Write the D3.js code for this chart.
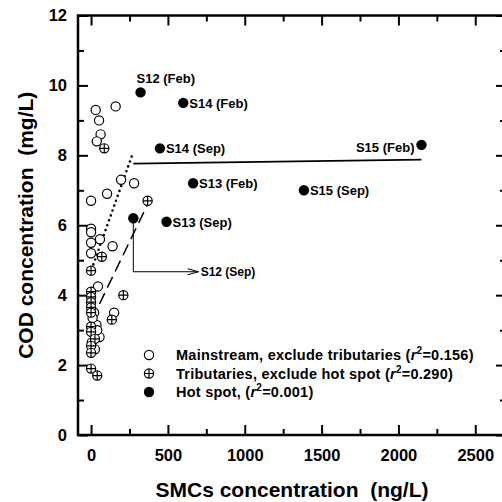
<!DOCTYPE html>
<html>
<head>
<meta charset="utf-8">
<script src="https://cdn.jsdelivr.net/npm/d3@7"></script>
<style>
  body { margin: 0; background: #fff; }
  text { font-family: "Liberation Sans", Arial, sans-serif; font-weight: bold; fill: #000; }
</style>
</head>
<body>
<div id="chart"></div>
<script>
// Mainstream sites (open circles)
var mainSMC = [30, 160, 52, 62, 37, 195, 280, 104, 0, 0, 0, 58, 0, 140, 0, 45, 20, 150, 35, 55, 5, 25, 10, 40]
var mainCOD = [9.3, 9.4, 9.0, 8.6, 8.4, 7.3, 7.2, 6.9, 6.7, 5.9, 5.8, 5.6, 5.5, 5.4, 5.2, 4.25, 3.5, 3.5, 3.15, 2.8, 2.65, 2.45, 3.35, 3.0]

// Tributaries (crossed circles)
var tribSMC = [86, 368, 70, 0, 0, 0, 0, 0, 0, 210, 135, 0, 0, 25, 0, 0, 0, 40]
var tribCOD = [8.2, 6.7, 5.1, 4.7, 4.1, 3.95, 3.8, 3.65, 3.5, 4.0, 3.3, 3.1, 2.95, 2.75, 2.55, 2.35, 1.9, 1.7]

// Hot spots (filled)
var hotSMC = [322, 600, 448, 664, 491, 275, 2150, 1385]
var hotCOD = [9.8, 9.5, 8.2, 7.2, 6.1, 6.2, 8.3, 7.0]
var hotNames = ["S12 (Feb)", "S14 (Feb)", "S14 (Sep)", "S13 (Feb)", "S13 (Sep)", "S12 (Sep)", "S15 (Feb)", "S15 (Sep)"]

// fitted lines, end points [SMC, COD]
var mainFit = [[15, 4.88], [275, 8.1]]
var tribFit = [[55, 3.75], [368, 6.6]]
var hotFit = [[275, 7.76], [2150, 7.88]]

var legendNames = ["Mainstream, exclude tributaries", "Tributaries, exclude hot spot", "Hot spot,"]
var legendR2 = ["0.156", "0.290", "0.001"]

var xMajor = [0, 500, 1000, 1500, 2000, 2500]
var xMinor = [250, 750, 1250, 1750, 2250]
var yMajor = [0, 2, 4, 6, 8, 10, 12]
var yMinor = [1, 3, 5, 7, 9, 11]

var width = 502, height = 502

var svg = d3.select("#chart").append("svg")
    .attr("width", width)
    .attr("height", height)

var x = d3.scaleLinear().domain([-85, 2700]).range([78, 506])
var y = d3.scaleLinear().domain([0, 12]).range([435, 15.5])

// ticks (all pointing inward)
function clean(g) {
    g.select(".domain").remove()
    g.selectAll(".tick line").attr("stroke", "#000").attr("stroke-width", 2)
    g.selectAll(".tick text").style("font-size", "16.5px")
}

svg.append("g").attr("transform", "translate(0," + y(0) + ")")
    .call(d3.axisBottom(x).tickValues(xMajor).tickSize(-10).tickPadding(14).tickFormat(d3.format("d"))).call(clean)
svg.append("g").attr("transform", "translate(0," + y(0) + ")")
    .call(d3.axisBottom(x).tickValues(xMinor).tickSize(-6).tickFormat("")).call(clean)
svg.append("g").attr("transform", "translate(0," + y(12) + ")")
    .call(d3.axisTop(x).tickValues(xMajor).tickSize(-10).tickFormat("")).call(clean)
svg.append("g").attr("transform", "translate(0," + y(12) + ")")
    .call(d3.axisTop(x).tickValues(xMinor).tickSize(-6).tickFormat("")).call(clean)

svg.append("g").attr("transform", "translate(" + x(-85) + ",0)")
    .call(d3.axisLeft(y).tickValues(yMajor).tickSize(-10).tickPadding(11)).call(clean)
svg.append("g").attr("transform", "translate(" + x(-85) + ",0)")
    .call(d3.axisLeft(y).tickValues(yMinor).tickSize(-6).tickFormat("")).call(clean)
svg.append("g").attr("transform", "translate(" + x(2700) + ",0)")
    .call(d3.axisRight(y).tickValues(yMajor).tickSize(-10).tickFormat("")).call(clean)
svg.append("g").attr("transform", "translate(" + x(2700) + ",0)")
    .call(d3.axisRight(y).tickValues(yMinor).tickSize(-6).tickFormat("")).call(clean)

// frame
svg.append("rect")
    .attr("x", x(-85)).attr("y", y(12))
    .attr("width", x(2700) - x(-85)).attr("height", y(0) - y(12))
    .attr("fill", "none").attr("stroke", "#000").attr("stroke-width", 2.5)

// axis titles
svg.append("text")
    .attr("x", (x(-85) + x(2700)) / 2).attr("y", 497)
    .attr("text-anchor", "middle").style("font-size", "21px")
    .text("SMCs concentration\u00a0\u00a0(ng/L)")
svg.append("text")
    .attr("transform", "translate(33," + (y(0) + y(12)) / 2 + ")rotate(-90)")
    .attr("text-anchor", "middle").style("font-size", "21px")
    .text("COD concentration\u00a0\u00a0(mg/L)")

// fit lines
var line = d3.line().x(d => x(d[0])).y(d => y(d[1]))
svg.append("path").attr("d", line(mainFit))
    .attr("fill", "none").attr("stroke", "#000").attr("stroke-width", 2.6)
    .attr("stroke-linecap", "round").attr("stroke-dasharray", "0,5.2")
svg.append("path").attr("d", line(tribFit))
    .attr("fill", "none").attr("stroke", "#000").attr("stroke-width", 1.5)
    .attr("stroke-dasharray", "12,6")
svg.append("path").attr("d", line(hotFit))
    .attr("fill", "none").attr("stroke", "#000").attr("stroke-width", 1.8)

// symbol drawing
function openCircle(g, cx, cy) {
    g.append("circle").attr("cx", cx).attr("cy", cy).attr("r", 4.6)
        .attr("fill", "#fff").attr("stroke", "#000").attr("stroke-width", 1.2)
}
function crossCircle(g, cx, cy) {
    openCircle(g, cx, cy)
    g.append("path")
        .attr("d", "M" + (cx - 4.6) + "," + cy + "H" + (cx + 4.6) + "M" + cx + "," + (cy - 4.6) + "V" + (cy + 4.6))
        .attr("stroke", "#000").attr("stroke-width", 1.2)
}
function dot(g, cx, cy) {
    g.append("circle").attr("cx", cx).attr("cy", cy).attr("r", 5.2).attr("fill", "#000")
}

var pts = svg.append("g")
mainSMC.forEach((v, i) => openCircle(pts, x(v), y(mainCOD[i])))
tribSMC.forEach((v, i) => crossCircle(pts, x(v), y(tribCOD[i])))
hotSMC.forEach((v, i) => dot(pts, x(v), y(hotCOD[i])))

// hot spot labels
var labelSide = { "S12 (Feb)": "above", "S15 (Feb)": "left", "S12 (Sep)": "arrow" }
hotNames.forEach((name, i) => {
    var cx = x(hotSMC[i]), cy = y(hotCOD[i])
    var side = labelSide[name] || "right"
    var t = svg.append("text").style("font-size", "13px").text(name)
    if (side === "above") {
        t.attr("x", cx - 4).attr("y", cy - 9)
    } else if (side === "left") {
        t.attr("x", cx - 7).attr("y", cy + 7).attr("text-anchor", "end")
    } else if (side === "arrow") {
        var yEnd = y(4.67), xEnd = x(700)
        svg.append("path")
            .attr("d", "M" + cx + "," + cy + "V" + yEnd + "H" + xEnd)
            .attr("fill", "none").attr("stroke", "#000").attr("stroke-width", 1)
        svg.append("path")
            .attr("d", "M" + (xEnd - 11) + "," + (yEnd - 3) + "L" + xEnd + "," + yEnd + "L" + (xEnd - 11) + "," + (yEnd + 3))
            .attr("fill", "none").attr("stroke", "#000").attr("stroke-width", 1)
        t.attr("x", xEnd + 2).attr("y", yEnd + 4.5).style("font-size", "12px")
    } else {
        t.attr("x", cx + 6).attr("y", cy + 5)
    }
})

// legend
var lx = 149, ly = [355, 373.5, 392]
openCircle(svg, lx, ly[0])
crossCircle(svg, lx, ly[1])
dot(svg, lx, ly[2])
legendNames.forEach((name, i) => {
    var t = svg.append("text").attr("x", 176).attr("y", ly[i] + 5)
        .style("font-size", "14.5px").style("letter-spacing", "0.25px")
    t.append("tspan").text(name + " (")
    t.append("tspan").style("font-style", "italic").text("r")
    t.append("tspan").attr("dy", -6).style("font-size", "10px").text("2")
    t.append("tspan").attr("dy", 6).text("=" + legendR2[i] + ")")
})
</script>
</body>
</html>
